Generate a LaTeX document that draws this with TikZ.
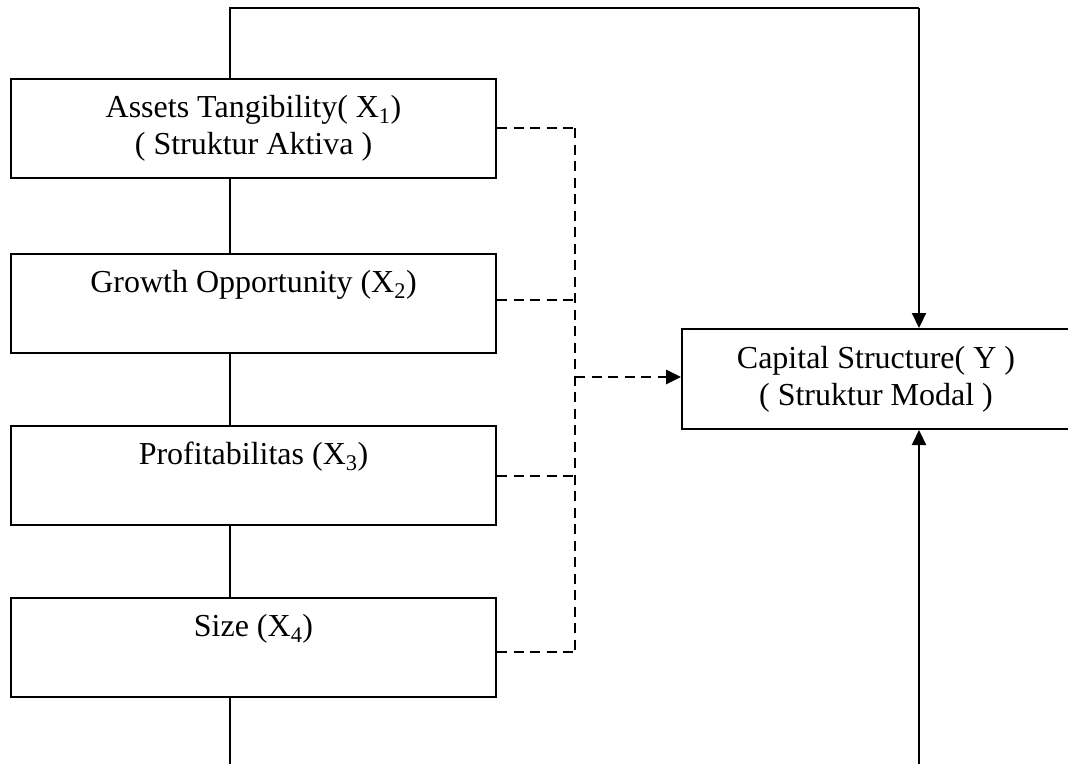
\documentclass[tikz,border=0pt]{standalone}
\usepackage{fontspec}
\setmainfont{Liberation Serif}
\usetikzlibrary{arrows.meta}
\begin{document}
\begin{tikzpicture}[x=1pt,y=-1pt,
  box/.style={draw, line width=2pt, minimum width=485pt, minimum height=99pt, align=center, inner sep=0pt, font=\fontsize{32}{37}\selectfont},
  ybox/.style={draw, line width=2pt, minimum width=388pt, minimum height=100pt, align=center, inner sep=0pt, font=\fontsize{32}{37}\selectfont},
  solid line/.style={line width=2.2pt},
  dash line/.style={line width=2.8pt, dash pattern=on 10pt off 6.5pt},
  arr/.style={-{Triangle[length=15pt,width=14pt]}}]
\useasboundingbox (0,0) rectangle (1068,764);
\node[box] (b1) at (253.5,128.5) {Assets Tangibility( X\textsubscript{1})\\( Struktur Aktiva )};
\node[box] (b2) at (253.5,303) {Growth Opportunity (X\textsubscript{2})\\\vphantom{( S}};
\node[box] (b3) at (253.5,475) {Profitabilitas (X\textsubscript{3})\\\vphantom{( S}};
\node[box] (b4) at (253.5,647) {Size (X\textsubscript{4})\\\vphantom{( S}};
\node[ybox] (y) at (876,379) {Capital Structure( Y )\\( Struktur Modal )};
% helper coordinates
\coordinate (cx) at (230,0);
\coordinate (tl) at (230,8);
\coordinate (tr) at (919,8);
\coordinate (bl) at (230,764);
\coordinate (br) at (919,764);
\coordinate (j1) at (575,128);
\coordinate (j2) at (575,300);
\coordinate (j3) at (575,476);
\coordinate (j4) at (575,652);
\coordinate (ja) at (575,377);
% solid connectors
\draw[solid line] (b1.north -| cx) -- (tl) -- (tr);
\draw[solid line, arr] (tr) -- (y.north -| tr);
\draw[solid line] (b1.south -| cx) -- (b2.north -| cx);
\draw[solid line] (b2.south -| cx) -- (b3.north -| cx);
\draw[solid line] (b3.south -| cx) -- (b4.north -| cx);
\draw[solid line] (b4.south -| cx) -- (bl);
\draw[solid line, arr] (br) -- (y.south -| br);
% dashed connectors
\draw[dash line] (b1.east |- j1) -- (j1);
\draw[dash line] (b2.east |- j2) -- (j2);
\draw[dash line] (b3.east |- j3) -- (j3);
\draw[dash line] (b4.east |- j4) -- (j4);
\draw[dash line] (j1) -- (j4);
\draw[dash line, arr] (ja) -- (y.west |- ja);
\end{tikzpicture}
\end{document}
